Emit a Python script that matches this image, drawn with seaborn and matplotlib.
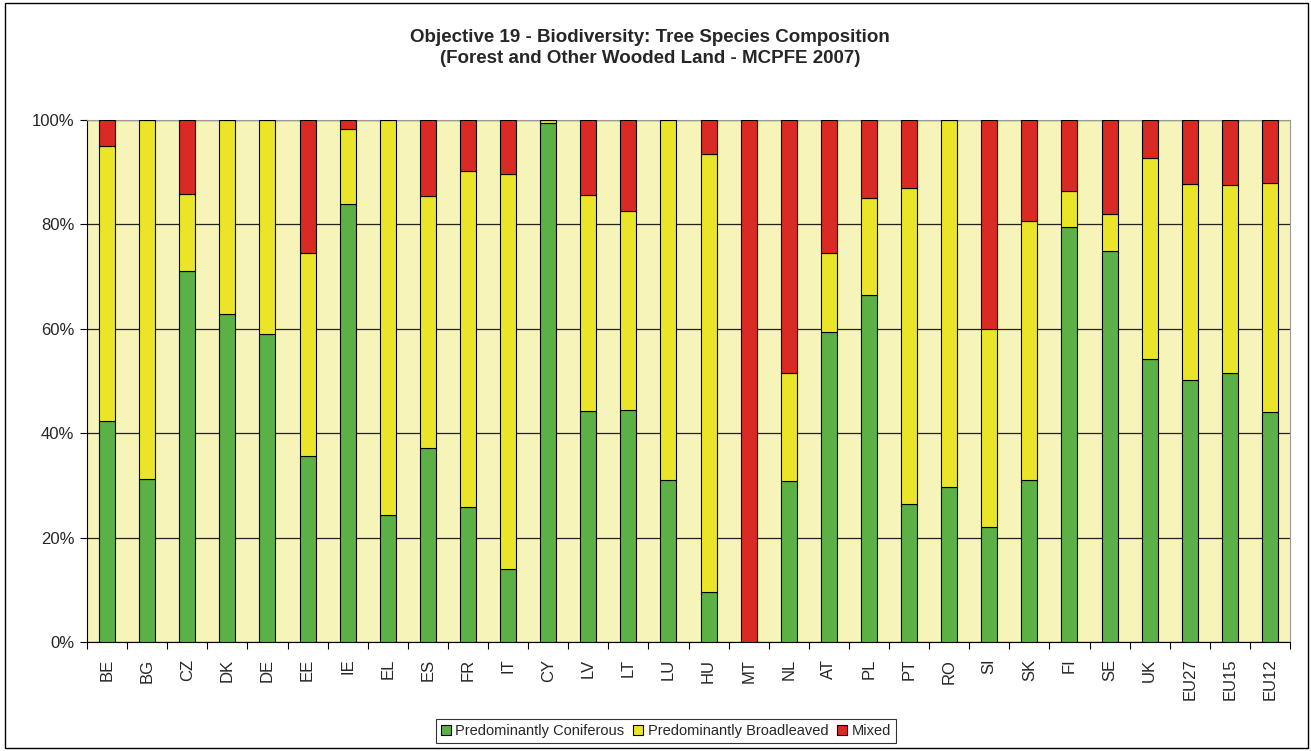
import matplotlib
matplotlib.use("Agg")
import matplotlib.pyplot as plt
import seaborn as sns
import numpy as np
from matplotlib.patches import Rectangle, Patch
from matplotlib.ticker import FixedLocator, PercentFormatter

countries = ["BE", "BG", "CZ", "DK", "DE", "EE", "IE", "EL", "ES", "FR", "IT", "CY",
             "LV", "LT", "LU", "HU", "MT", "NL", "AT", "PL", "PT", "RO", "SI", "SK",
             "FI", "SE", "UK", "EU27", "EU15", "EU12"]
coniferous = [42.3, 31.2, 71.0, 62.9, 59.0, 35.6, 84.0, 24.4, 37.1, 25.9, 14.0, 99.5,
              44.2, 44.4, 31.1, 9.5, 0.0, 30.8, 59.4, 66.4, 26.4, 29.7, 22.1, 31.1,
              79.5, 75.0, 54.2, 50.1, 51.6, 44.1]
broadleaved = [52.8, 68.8, 14.8, 37.1, 41.0, 38.9, 14.2, 75.6, 48.4, 64.4, 75.7, 0.5,
               41.4, 38.1, 68.9, 83.9, 0.0, 20.7, 15.2, 18.6, 60.5, 70.3, 37.8, 49.5,
               6.9, 7.0, 38.5, 37.6, 36.0, 43.9]
mixed = [4.9, 0.0, 14.2, 0.0, 0.0, 25.5, 1.8, 0.0, 14.5, 9.7, 10.3, 0.0,
         14.4, 17.5, 0.0, 6.6, 100.0, 48.5, 25.4, 15.0, 13.1, 0.0, 40.1, 19.4,
         13.6, 18.0, 7.3, 12.3, 12.4, 12.0]
series_names = ["Predominantly Coniferous", "Predominantly Broadleaved", "Mixed"]
colors = ["#5cb146", "#ebe52a", "#d92a25"]

sns.set_style("white")
plt.rcParams['font.family'] = ['Liberation Sans', 'DejaVu Sans']

fig = plt.figure(figsize=(13.11, 7.51), dpi=100)
ax = fig.add_axes([87/1311, 1 - 642/751, (1290-87)/1311, (642-120)/751])
ax.set_facecolor("#f7f4b9")

con = np.array(coniferous)
brd = np.array(broadleaved)
mix = np.array(mixed)
bottoms = [np.zeros_like(con), con, con + brd]
for vals, bot, col in zip([con, brd, mix], bottoms, colors):
    sns.barplot(x=countries, y=vals, bottom=bot, color=col, width=0.4,
                edgecolor="black", linewidth=0.8, ax=ax, saturation=1, zorder=3)

ax.set_ylim(0, 100)
ax.set_xlim(-0.5, len(countries) - 0.5)
ax.yaxis.set_major_locator(FixedLocator([0, 20, 40, 60, 80, 100]))
ax.yaxis.set_major_formatter(PercentFormatter(decimals=0))
ax.grid(axis="y", color="#222222", linewidth=0.9, zorder=1)
ax.set_axisbelow(True)

for s in ["top", "right"]:
    ax.spines[s].set_color("#999999")
    ax.spines[s].set_linewidth(0.8)
for s in ["left", "bottom"]:
    ax.spines[s].set_color("black")
    ax.spines[s].set_linewidth(0.8)

ax.tick_params(axis="y", which="major", direction="out", length=5, width=0.8,
               labelsize=12, left=True, color="black", pad=4)
ax.tick_params(axis="x", which="major", length=0, labelsize=12, pad=12)
ax.set_xticks(range(len(countries)))
ax.set_xticklabels(countries, rotation=90)
ax.xaxis.set_minor_locator(FixedLocator(np.arange(-0.5, len(countries), 1.0)))
ax.tick_params(axis="x", which="minor", direction="out", length=5, width=0.8,
               bottom=True, color="black")
ax.set_xlabel("")
ax.set_ylabel("")

fig.suptitle("Objective 19 - Biodiversity: Tree Species Composition\n"
             "(Forest and Other Wooded Land - MCPFE 2007)",
             x=650/1311, y=1 - 29/751, va="top", fontsize=13.5, fontweight="bold",
             linespacing=1.3)

handles = [Patch(facecolor=c, edgecolor="black", linewidth=0.8) for c in colors]
leg = fig.legend(handles, series_names, loc="center", bbox_to_anchor=(666/1311, 1 - 731/751),
                 ncol=3, frameon=True, fontsize=10.5, handlelength=0.7, handleheight=0.7,
                 handletextpad=0.3, columnspacing=0.6, borderpad=0.35, fancybox=False,
                 edgecolor="black")
leg.get_frame().set_linewidth(0.8)

fig.patches.append(Rectangle((5/1311, 3/751), (1308-5)/1311, (748-3)/751,
                             transform=fig.transFigure, fill=False,
                             edgecolor="black", linewidth=1.0))

fig.savefig("out.png", dpi=100, facecolor="white")
